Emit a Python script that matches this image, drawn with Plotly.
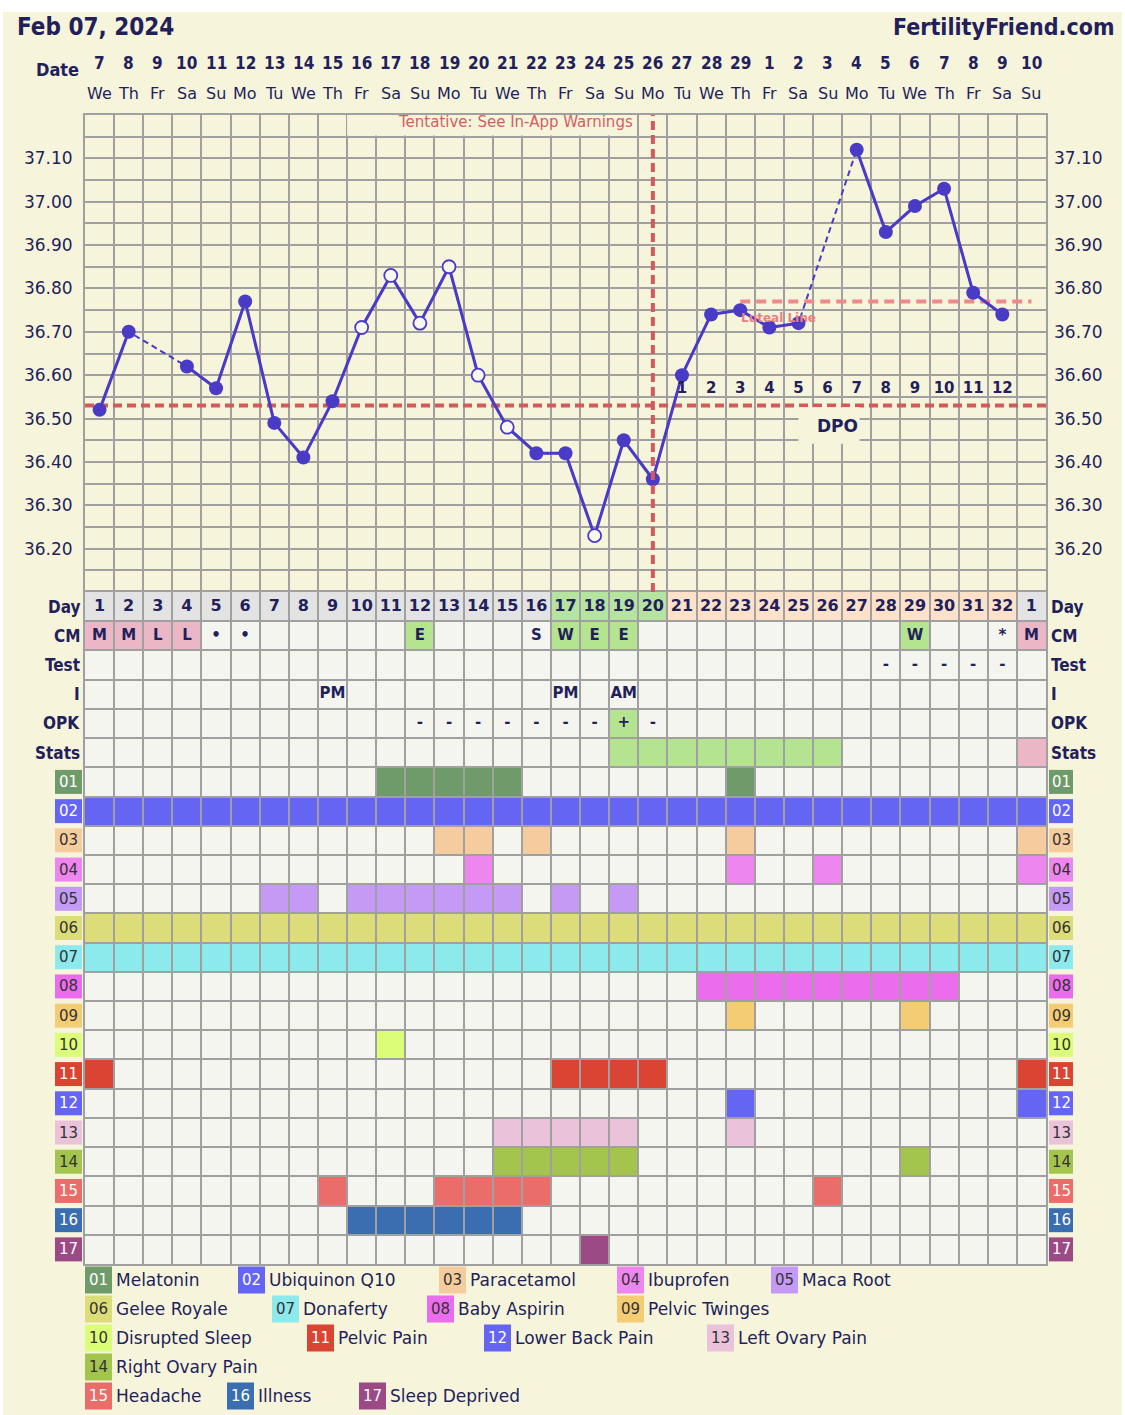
import plotly.graph_objects as go

# ---------------- DATA ----------------
dates = [7, 8, 9, 10, 11, 12, 13, 14, 15, 16, 17, 18, 19, 20, 21, 22, 23, 24, 25, 26, 27, 28, 29,
         1, 2, 3, 4, 5, 6, 7, 8, 9, 10]
weekdays = ["We", "Th", "Fr", "Sa", "Su", "Mo", "Tu"] * 4 + ["We", "Th", "Fr", "Sa", "Su"]
cycle_days = list(range(1, 33)) + [1]

temps = [36.52, 36.70, None, 36.62, 36.57, 36.77, 36.49, 36.41, 36.54, 36.71,
         36.83, 36.72, 36.85, 36.60, 36.48, 36.42, 36.42, 36.23, 36.45, 36.36,
         36.60, 36.74, 36.75, 36.71, 36.72, None, 37.12, 36.93, 36.99, 37.03,
         36.79, 36.74, None]
open_days = [10, 11, 12, 13, 14, 15, 18]          # discarded / open-circle temps

coverline_temp = 36.53
ovulation_day = 20
luteal_temp = 36.77
luteal_days = [23, 33]
dpo_days = list(range(21, 33))
dpo_labels = [str(i) for i in range(1, 13)]

day_phase = ["pre"] * 16 + ["fertile"] * 4 + ["luteal"] * 12 + ["pre"]

cm_marks = ["M", "M", "L", "L", "•", "•", "", "", "", "", "", "E", "", "", "", "S",
            "W", "E", "E", "", "", "", "", "", "", "", "", "", "W", "", "", "*", "M"]
test_marks = [""] * 27 + ["-", "-", "-", "-", "-", ""]
intercourse = [""] * 8 + ["PM"] + [""] * 7 + ["PM", "", "AM"] + [""] * 14
opk_marks = [""] * 11 + ["-", "-", "-", "-", "-", "-", "-", "+", "-"] + [""] * 13
stats_phase = [""] * 18 + ["g"] * 8 + [""] * 6 + ["p"]

row_labels = ["Day", "CM", "Test", "I", "OPK", "Stats"]

symptom_codes = ["01", "02", "03", "04", "05", "06", "07", "08", "09", "10",
                 "11", "12", "13", "14", "15", "16", "17"]
symptom_names = ["Melatonin", "Ubiquinon Q10", "Paracetamol", "Ibuprofen", "Maca Root",
                 "Gelee Royale", "Donaferty", "Baby Aspirin", "Pelvic Twinges",
                 "Disrupted Sleep", "Pelvic Pain", "Lower Back Pain", "Left Ovary Pain",
                 "Right Ovary Pain", "Headache", "Illness", "Sleep Deprived"]
symptom_colors = ["#6f9b6b", "#6565f3", "#f5cc9e", "#ee86f0", "#c49af5",
                  "#dcdc78", "#8ce9ec", "#eb6ced", "#f3cc73", "#dcfd78",
                  "#da4533", "#6565f3", "#eac3da", "#a3c54e", "#ea6d6a",
                  "#3b6eb0", "#9c4a86"]
symptom_light_text = [True, True, False, False, False, False, False, False, False, False,
                      True, True, False, False, True, True, True]
symptom_days = [
    [11, 12, 13, 14, 15, 23],
    list(range(1, 34)),
    [13, 14, 16, 23, 33],
    [14, 23, 26, 33],
    [7, 8, 10, 11, 12, 13, 14, 15, 17, 19],
    list(range(1, 34)),
    list(range(1, 34)),
    list(range(22, 31)),
    [23, 29],
    [11],
    [1, 17, 18, 19, 20, 33],
    [23, 33],
    [15, 16, 17, 18, 19, 23],
    [15, 16, 17, 18, 19, 29],
    [9, 13, 14, 15, 16, 26],
    [10, 11, 12, 13, 14, 15],
    [18],
]

# ---------------- STYLE / LAYOUT ----------------
W, H = 1125, 1415
L, R, T, B = 85, 1046, 115, 1264          # plot area in pixels
GRID = "#a0a0a0"
CREAM = "#f7f4dc"
CELL = "#f5f5f0"
NAVY = "#221f5a"
BLUE = "#4a3bc6"
RED = "#d25a5a"
PINKLINE = "#ec8a8a"
FONT = "DejaVu Sans"
COND = "DejaVu Sans Condensed, DejaVu Sans"
phase_colors = {"pre": "#e3e3e3", "fertile": "#b5e4a0", "luteal": "#fde2c9"}
cm_colors = {"M": "#ebb7c6", "L": "#ebb7c6", "E": "#b4e490", "W": "#b4e490"}
stats_colors = {"g": "#b4e490", "p": "#ebb7c6"}
OPK_POS = "#b4e490"

N = len(dates)
X = list(range(1, N + 1))
NROWS = len(row_labels) + len(symptom_codes)
temp_dom_bottom = (B - 592) / (B - T)


def pxx(p):
    return (p - L) / (R - L)


def pyy(p):
    return (B - p) / (B - T)


fig = go.Figure()

# ---- temperature curve ----
fig.add_trace(go.Scatter(x=X, y=temps, mode="lines", connectgaps=True,
                         line=dict(color=BLUE, width=2, dash="6px,4px"),
                         hoverinfo="skip", showlegend=False))
fig.add_trace(go.Scatter(x=X, y=temps, mode="lines", connectgaps=False,
                         line=dict(color=BLUE, width=3), hoverinfo="skip", showlegend=False))
fx = [d for d, t in zip(X, temps) if t is not None and d not in open_days]
fy = [t for d, t in zip(X, temps) if t is not None and d not in open_days]
ox = [d for d, t in zip(X, temps) if t is not None and d in open_days]
oy = [t for d, t in zip(X, temps) if t is not None and d in open_days]
fig.add_trace(go.Scatter(x=fx, y=fy, mode="markers",
                         marker=dict(size=14, color=BLUE, line=dict(width=0)),
                         showlegend=False))
fig.add_trace(go.Scatter(x=ox, y=oy, mode="markers",
                         marker=dict(size=13, color="#f9f8f0", line=dict(width=1.8, color=BLUE)),
                         showlegend=False))
# right-side temperature axis carrier
fig.add_trace(go.Scatter(x=[1], y=[36.5], yaxis="y3", mode="markers",
                         marker=dict(opacity=0), hoverinfo="skip", showlegend=False))

# DPO numbers
fig.add_trace(go.Scatter(x=dpo_days, y=[36.568] * len(dpo_days), mode="text", text=dpo_labels,
                         textfont=dict(family=FONT, size=15, color=NAVY, weight="bold"),
                         hoverinfo="skip", showlegend=False))


# ---- table texts ----
def add_row_text(row, texts, size=15):
    xs = [x for x, t in zip(X, texts) if t]
    ts = [t for t in texts if t]
    fig.add_trace(go.Scatter(x=xs, y=[row + 0.5] * len(xs), yaxis="y2", mode="text", text=ts,
                             textfont=dict(family=FONT, size=size, color=NAVY, weight="bold"),
                             hoverinfo="skip", showlegend=False))


add_row_text(0, [str(d) for d in cycle_days], size=16)
add_row_text(1, cm_marks, size=15)
add_row_text(2, test_marks, size=15)
add_row_text(3, intercourse, size=15)
add_row_text(4, opk_marks, size=15)

shapes = []
annotations = []


def note(x, y, text, font, xref="paper", yref="paper", xanchor="center"):
    annotations.append(dict(x=x, y=y, xref=xref, yref=yref, text=text, showarrow=False,
                            xanchor=xanchor, yanchor="middle", font=font))


# page background (white border around cream panel)
shapes.append(dict(type="rect", xref="paper", yref="paper", layer="below",
                   x0=pxx(3), x1=pxx(1122), y0=pyy(1416), y1=pyy(12),
                   fillcolor=CREAM, line=dict(width=0)))

# table background
shapes.append(dict(type="rect", xref="x", yref="y2", layer="below",
                   x0=0.5, x1=N + 0.5, y0=0, y1=NROWS, fillcolor=CELL, line=dict(width=0)))


def cell(day, row, color):
    shapes.append(dict(type="rect", xref="x", yref="y2", layer="below",
                       x0=day - 0.5, x1=day + 0.5, y0=row, y1=row + 1,
                       fillcolor=color, line=dict(width=0)))


for d, ph in zip(X, day_phase):
    cell(d, 0, phase_colors[ph])
for d, m in zip(X, cm_marks):
    if m in cm_colors:
        cell(d, 1, cm_colors[m])
for d, m in zip(X, opk_marks):
    if m == "+":
        cell(d, 4, OPK_POS)
for d, s in zip(X, stats_phase):
    if s:
        cell(d, 5, stats_colors[s])
for i, days in enumerate(symptom_days):
    for d in days:
        cell(d, 6 + i, symptom_colors[i])

# reference lines
shapes.append(dict(type="line", xref="x", yref="y", x0=0.5, x1=N + 0.5,
                   y0=coverline_temp, y1=coverline_temp, layer="between",
                   line=dict(color=RED, width=4, dash="9px,5px")))
shapes.append(dict(type="line", xref="x", yref="y", x0=luteal_days[0], x1=luteal_days[1],
                   y0=luteal_temp, y1=luteal_temp, layer="between",
                   line=dict(color=PINKLINE, width=4, dash="10px,6px")))
shapes.append(dict(type="line", xref="x", yref="y", x0=ovulation_day, x1=ovulation_day,
                   y0=36.10, y1=37.20, layer="above",
                   line=dict(color=RED, width=4, dash="9px,5px")))
# label boxes in chart
shapes.append(dict(type="rect", xref="x", yref="y", layer="between",
                   x0=9.5, x1=19.45, y0=37.153, y1=37.205, fillcolor=CREAM, line=dict(width=0)))
shapes.append(dict(type="rect", xref="x", yref="y", layer="between",
                   x0=25.0, x1=27.1, y0=36.442, y1=36.526, fillcolor=CREAM, line=dict(width=0)))

note(19.4, 37.183, "Tentative: See In-App Warnings",
     dict(family=FONT, size=15, color="#d25f5f"), xref="x", yref="y", xanchor="right")
note(26.35, 36.483, "DPO", dict(family=FONT, size=17, color=NAVY, weight="bold"),
     xref="x", yref="y")
note(24.3, 36.733, "Luteal Line", dict(family=FONT, size=12, color="#e98080", weight="bold"),
     xref="x", yref="y")

# header
note(pxx(15), pyy(27), "Feb 07, 2024", dict(family=COND, size=24, color=NAVY, weight="bold"),
     xanchor="left")
note(pxx(1116), pyy(27), "FertilityFriend.com",
     dict(family=COND, size=23, color=NAVY, weight="bold"), xanchor="right")
note(pxx(57), pyy(70), "Date", dict(family=COND, size=18, color=NAVY, weight="bold"))
for x, d, wd in zip(X, dates, weekdays):
    note(x, pyy(63), str(d), dict(family=COND, size=17, color=NAVY, weight="bold"), xref="x")
    note(x, pyy(93), wd, dict(family=FONT, size=16, color=NAVY), xref="x")

# table row labels
row_h = (B - 592) / NROWS
for r, lab in enumerate(row_labels):
    yc = 592 + (r + 0.5) * row_h
    f = dict(family=COND, size=17, color=NAVY, weight="bold")
    note(pxx(82), pyy(yc), lab, f, xanchor="right")
    note(pxx(1049), pyy(yc), lab, f, xanchor="left")


def code_box(x0, yc, i, w=26, h=25):
    shapes.append(dict(type="rect", xref="paper", yref="paper",
                       x0=pxx(x0), x1=pxx(x0 + w), y0=pyy(yc + h / 2), y1=pyy(yc - h / 2),
                       fillcolor=symptom_colors[i], line=dict(width=0)))
    note(pxx(x0 + w / 2), pyy(yc), symptom_codes[i],
         dict(family=FONT, size=15, color="#ffffff" if symptom_light_text[i] else "#333333"))


for i in range(len(symptom_codes)):
    yc = 592 + (6 + i + 0.5) * row_h
    code_box(55, yc, i, w=27, h=24)
    code_box(1049, yc, i, w=24, h=24)

# legend (layout positions in pixels: box left, row centre)
legend_pos = [(85, 1280), (238, 1280), (439, 1280), (617, 1280), (771, 1280),
              (85, 1309), (272, 1309), (427, 1309), (617, 1309),
              (85, 1338), (307, 1338), (484, 1338), (707, 1338),
              (85, 1367),
              (85, 1396), (227, 1396), (359, 1396)]
for i, (lx, ly) in enumerate(legend_pos):
    code_box(lx, ly, i, w=27, h=27)
    note(pxx(lx + 29), pyy(ly), symptom_names[i], dict(family=FONT, size=17, color=NAVY),
         xanchor="left")

temp_ticks = [round(36.2 + 0.1 * k, 2) for k in range(10)]
temp_text = [f"{v:.2f}" for v in temp_ticks]

fig.update_layout(
    width=W, height=H,
    margin=dict(l=L, r=W - R, t=T, b=H - B, pad=0),
    paper_bgcolor="#ffffff",
    plot_bgcolor=CREAM,
    showlegend=False,
    shapes=shapes,
    annotations=annotations,
    xaxis=dict(range=[0.5, N + 0.5], tickmode="linear", tick0=0.5, dtick=1,
               showticklabels=False, ticks="", showgrid=True, gridcolor=GRID, gridwidth=2,
               zeroline=False, showline=True, linecolor=GRID, linewidth=2, mirror="all",
               anchor="y2", fixedrange=True),
    yaxis=dict(domain=[temp_dom_bottom, 1], range=[36.10, 37.20], tickmode="array",
               tickvals=temp_ticks, ticktext=temp_text, ticks="",
               tickfont=dict(family=FONT, size=17, color=NAVY), ticklabelstandoff=7,
               showgrid=True, gridcolor=GRID, gridwidth=2,
               minor=dict(tick0=36.10, dtick=0.05, showgrid=True, gridcolor=GRID, gridwidth=2),
               zeroline=False, showline=True, linecolor=GRID, linewidth=2, mirror=True,
               anchor="x", fixedrange=True),
    yaxis3=dict(overlaying="y", side="right", range=[36.10, 37.20], tickmode="array",
                tickvals=temp_ticks, ticktext=temp_text, ticks="",
                tickfont=dict(family=FONT, size=17, color=NAVY), ticklabelstandoff=7,
                showgrid=False, zeroline=False, showline=False, anchor="x", fixedrange=True),
    yaxis2=dict(domain=[0, temp_dom_bottom], range=[NROWS, 0], tickmode="linear", tick0=0,
                dtick=1, showticklabels=False, ticks="", showgrid=True, gridcolor=GRID,
                gridwidth=2, zeroline=False, showline=True, linecolor=GRID, linewidth=2,
                mirror=True, anchor="x", fixedrange=True),
)

fig.write_html("out.html", config={"displayModeBar": False},
               post_script="document.body.style.margin='0px';document.body.style.overflow='hidden';")
